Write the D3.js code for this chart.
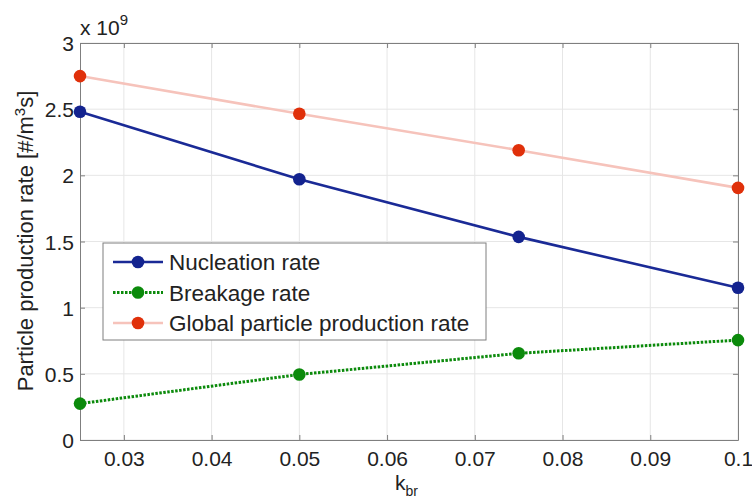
<!DOCTYPE html>
<html>
<head>
<meta charset="utf-8">
<script src="https://cdn.jsdelivr.net/npm/d3@7"></script>
<style>
	body { margin: 0; background: #fff; }
	text { font-family: "Liberation Sans", Arial, sans-serif; fill: #222; }
</style>
</head>
<body>
<svg id="chart"></svg>
<script>
	var kbr = [0.025, 0.05, 0.075, 0.1],
		nucleation = [2.48, 1.97, 1.535, 1.15],
		breakage = [0.275, 0.495, 0.655, 0.755],
		globalRate = [2.75, 2.465, 2.19, 1.905],
		xTicks = [0.03, 0.04, 0.05, 0.06, 0.07, 0.08, 0.09, 0.1],
		yTicks = [0, 0.5, 1, 1.5, 2, 2.5, 3],
		seriesNames = ['Nucleation rate', 'Breakage rate', 'Global particle production rate'];

	var width = 752,
		height = 502,
		margin = {left: 80, right: 14, top: 43, bottom: 62},
		svg, x, y, plot, series, legend;

	svg = d3.select('#chart')
		.attr('width', width)
		.attr('height', height);

	x = d3.scaleLinear().domain([0.025, 0.1]).range([margin.left, width - margin.right]);
	y = d3.scaleLinear().domain([0, 3]).range([height - margin.bottom, margin.top]);

	// Grid
	plot = svg.append('g');
	plot.selectAll('.gx').data(xTicks).enter()
		.append('line')
			.attr('x1', x).attr('x2', x)
			.attr('y1', y(0)).attr('y2', y(3))
			.style('stroke', '#e6e6e6').style('stroke-width', 1);
	plot.selectAll('.gy').data(yTicks).enter()
		.append('line')
			.attr('x1', x(0.025)).attr('x2', x(0.1))
			.attr('y1', y).attr('y2', y)
			.style('stroke', '#e6e6e6').style('stroke-width', 1);

	// Axes (box style, ticks inside)
	var axisColour = '#7f7f7f';
	var xAxis = svg.append('g')
		.attr('transform', 'translate(0,' + y(0) + ')')
		.call(d3.axisBottom(x).tickValues(xTicks).tickSizeInner(-5).tickSizeOuter(0)
			.tickFormat(function (d) {return d === 0.1 ? '0.1' : d3.format('.2f')(d);}));
	var yAxis = svg.append('g')
		.attr('transform', 'translate(' + x(0.025) + ',0)')
		.call(d3.axisLeft(y).tickValues(yTicks).tickSizeInner(-5).tickSizeOuter(0)
			.tickFormat(function (d) {return d;}));
	var xTop = svg.append('g')
		.attr('transform', 'translate(0,' + y(3) + ')')
		.call(d3.axisTop(x).tickValues(xTicks).tickSizeInner(-5).tickSizeOuter(0).tickFormat(''));
	var yRight = svg.append('g')
		.attr('transform', 'translate(' + x(0.1) + ',0)')
		.call(d3.axisRight(y).tickValues(yTicks).tickSizeInner(-5).tickSizeOuter(0).tickFormat(''));

	[xAxis, yAxis, xTop, yRight].forEach(function (a) {
		a.selectAll('path, line').style('stroke', axisColour);
		a.selectAll('text').style('font-size', '21px').style('fill', '#222');
	});
	xAxis.selectAll('text').attr('y', 26).attr('dy', 0);
	yAxis.selectAll('text').attr('x', -6).attr('dy', '0.36em');

	// Axis labels
	var xl = svg.append('text')
		.attr('x', 395)
		.attr('y', 490)
		.style('font-size', '21px');
	xl.append('tspan').text('k');
	xl.append('tspan').attr('dy', 6).style('font-size', '14px').text('br');

	var yl = svg.append('text')
		.attr('transform', 'translate(33,' + 241 + ') rotate(-90)')
		.attr('text-anchor', 'middle')
		.style('font-size', '22px');
	yl.append('tspan').text('Particle production rate [#/m');
	yl.append('tspan').attr('dy', -8).style('font-size', '15px').text('3');
	yl.append('tspan').attr('dy', 8).text('s]');

	var ex = svg.append('text')
		.attr('x', 80).attr('y', 35)
		.style('font-size', '21px');
	ex.append('tspan').text('x 10');
	ex.append('tspan').attr('dy', -10).style('font-size', '15px').text('9');

	// Series
	series = [
		{name: seriesNames[0], values: nucleation, line: '#1a2a96', marker: '#13238f', width: 2.6, dash: null},
		{name: seriesNames[1], values: breakage, line: '#0b8a0b', marker: '#0b8a0b', width: 3, dash: '2.5,1.5'},
		{name: seriesNames[2], values: globalRate, line: '#f6c3bb', marker: '#e0300a', width: 2.6, dash: null}
	];

	var line = d3.line()
		.x(function (d, i) {return x(kbr[i]);})
		.y(function (d) {return y(d);});

	series.forEach(function (s) {
		svg.append('path')
			.datum(s.values)
			.attr('d', line)
			.style('fill', 'none')
			.style('stroke', s.line)
			.style('stroke-width', s.width)
			.style('stroke-dasharray', s.dash);
		svg.selectAll(null).data(s.values).enter()
			.append('circle')
				.attr('cx', function (d, i) {return x(kbr[i]);})
				.attr('cy', y)
				.attr('r', 6.3)
				.style('fill', s.marker);
	});

	// Legend
	legend = svg.append('g').attr('transform', 'translate(103,243)');
	legend.append('rect')
		.attr('width', 383).attr('height', 97)
		.style('fill', '#fff')
		.style('stroke', '#7f7f7f')
		.style('stroke-width', 1);
	series.forEach(function (s, i) {
		var g = legend.append('g').attr('transform', 'translate(0,' + (19 + i * 30.5) + ')');
		g.append('line')
			.attr('x1', 10).attr('x2', 60)
			.style('stroke', s.line)
			.style('stroke-width', s.width)
			.style('stroke-dasharray', s.dash);
		g.append('circle').attr('cx', 35).attr('r', 6.3).style('fill', s.marker);
		g.append('text')
			.attr('x', 66).attr('dy', '0.36em')
			.style('font-size', '22.5px')
			.text(s.name);
	});
</script>
</body>
</html>
